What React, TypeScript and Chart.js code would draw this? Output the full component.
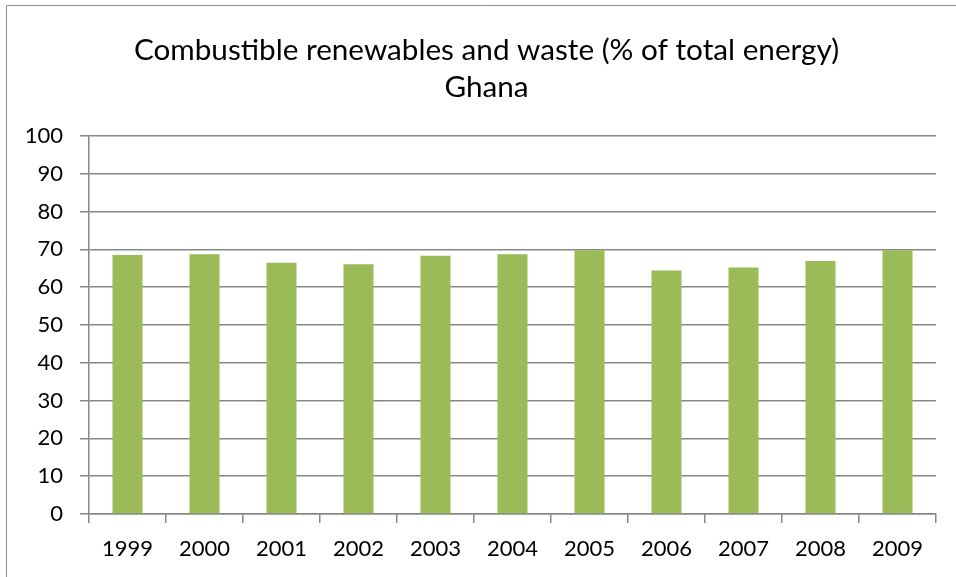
import React, { useEffect, useRef } from "react";
import { Chart, registerables } from "chart.js";

Chart.register(...registerables);

const categories = ["1999", "2000", "2001", "2002", "2003", "2004", "2005", "2006", "2007", "2008", "2009"];
const values = [68.5, 68.7, 66.5, 66.1, 68.3, 68.7, 69.8, 64.4, 65.2, 66.9, 69.8];
const titleLines = ["Combustible renewables and waste (% of total energy)", "Ghana"];

const FONT = "Lato, 'Open Sans', sans-serif";
const GRID = "#878787";

const frameAndTitlePlugin = {
  id: "frameAndTitle",
  beforeDraw(chart: any) {
    const ctx = chart.ctx;
    ctx.save();
    ctx.fillStyle = "#ffffff";
    ctx.fillRect(0, 0, chart.width, chart.height);
    ctx.strokeStyle = "#8f8f8f";
    ctx.lineWidth = 1;
    ctx.beginPath();
    ctx.moveTo(6.5, chart.height);
    ctx.lineTo(6.5, 5.5);
    ctx.lineTo(chart.width, 5.5);
    ctx.stroke();
    ctx.fillStyle = "#000000";
    ctx.font = `normal 29.7px ${FONT}`;
    ctx.textAlign = "center";
    ctx.textBaseline = "middle";
    const cx = (chart.chartArea.right + 37) / 2;
    titleLines.forEach((line, i) => {
      ctx.fillText(line, cx, 50 + i * 37);
    });
    ctx.restore();
  },
};

export default function App() {
  const ref = useRef<HTMLCanvasElement>(null);
  useEffect(() => {
    if (!ref.current) return;
    const chart = new Chart(ref.current, {
      type: "bar",
      data: {
        labels: categories,
        datasets: [
          {
            data: values,
            backgroundColor: "#9BBB59",
            borderWidth: 0,
            categoryPercentage: 1,
            barPercentage: 0.39,
          },
        ],
      },
      plugins: [frameAndTitlePlugin],
      options: {
        animation: false,
        responsive: false,
        layout: { padding: { left: 0, right: 20, top: 136, bottom: 0 } },
        plugins: {
          legend: { display: false },
          tooltip: { enabled: false },
          title: { display: false },
        },
        scales: {
          x: {
            grid: {
              offset: true,
              drawOnChartArea: false,
              drawTicks: true,
              tickLength: 9,
              color: GRID,
              lineWidth: 1.5,
            },
            border: { color: GRID, width: 1.5 },
            ticks: {
              color: "#000000",
              font: { family: FONT, size: 22 },
              padding: 13,
              maxRotation: 0,
            },
            afterFit(scale: any) {
              scale.height = 63;
            },
          },
          y: {
            min: 0,
            max: 100,
            ticks: {
              stepSize: 10,
              color: "#000000",
              font: { family: FONT, size: 22 },
              padding: 17,
            },
            grid: {
              color: GRID,
              lineWidth: 1.5,
              tickLength: 9,
            },
            border: { color: GRID, width: 1.5 },
            afterFit(scale: any) {
              scale.width = 89;
            },
          },
        },
      },
    } as any);
    return () => chart.destroy();
  }, []);
  return (
    <div style={{ position: "fixed", left: 0, top: 0, width: 956, height: 577 }}>
      <canvas ref={ref} width={956} height={577} style={{ display: "block" }} />
    </div>
  );
}
